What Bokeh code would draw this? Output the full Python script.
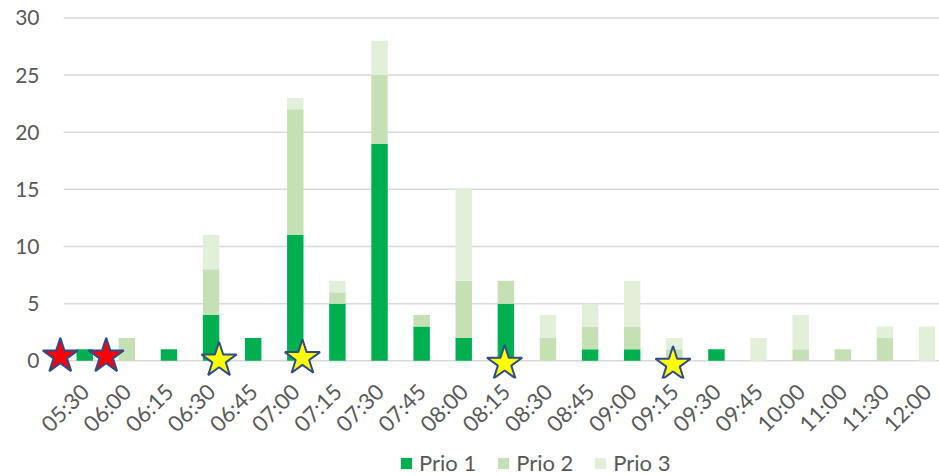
import math
from bokeh.plotting import figure
from bokeh.layouts import column
from bokeh.models import FixedTicker, Legend, LegendItem, ColumnDataSource, Range1d
from bokeh.embed import file_html
from bokeh.resources import INLINE

# ---- data ----
times = ["05:30", "06:00", "06:15", "06:30", "06:45", "07:00", "07:15", "07:30",
         "07:45", "08:00", "08:15", "08:30", "08:45", "09:00", "09:15", "09:30",
         "09:45", "10:00", "11:00", "11:30", "12:00"]
prio1 = [1, 0, 1, 4, 2, 11, 5, 19, 3, 2, 5, 0, 1, 1, 0, 1, 0, 0, 0, 0, 0]
prio2 = [0, 2, 0, 4, 0, 11, 1, 6, 1, 5, 2, 2, 2, 2, 1, 0, 0, 1, 1, 2, 0]
prio3 = [0, 0, 0, 3, 0, 1, 1, 3, 0, 8, 0, 2, 2, 4, 1, 0, 2, 3, 0, 1, 3]
series = ["Prio 1", "Prio 2", "Prio 3"]

# star markers (position in category units, value)
red_x = [-0.58, 0.51]
red_y = [0.4, 0.4]
yellow_x = [3.19, 5.17, 9.97, 13.97]
yellow_y = [0.05, 0.26, -0.23, -0.32]

y_ticks = [0, 5, 10, 15, 20, 25, 30]

FONT = "Lato"
TXT = "#595959"
COLORS = ["#00B050", "#C5E0B4", "#E2F0D9"]

X0, X1 = -1.05, 20.297

xs = list(range(len(times)))
src = ColumnDataSource(dict(x=xs, prio1=prio1, prio2=prio2, prio3=prio3))

p = figure(width=939, height=449, output_backend="svg", toolbar_location=None,
           x_range=Range1d(X0, X1), y_range=Range1d(-1.55, 30.3),
           min_border_left=40, min_border_right=0, min_border_top=14,
           min_border_bottom=68)
p.outline_line_color = None
p.background_fill_color = "white"
p.border_fill_color = "white"

# horizontal gridlines over the category area
p.segment(x0=[-0.5] * len(y_ticks), x1=[X1] * len(y_ticks), y0=y_ticks, y1=y_ticks,
          line_color="#D9D9D9", line_width=1.5, level="underlay")

rs = p.vbar_stack(["prio1", "prio2", "prio3"], x="x", width=0.39, source=src,
                  color=COLORS, line_color=None)

p.scatter(red_x, red_y, marker="star", size=37, fill_color="#FF0000",
          line_color="#2F4B8C", line_width=2)
p.scatter(yellow_x, yellow_y, marker="star", size=37, fill_color="#FFFF00",
          line_color="#2F4B8C", line_width=2)

# axes
p.xaxis.ticker = FixedTicker(ticks=xs)
p.xaxis.major_label_overrides = {i: t for i, t in enumerate(times)}
p.xaxis.major_label_orientation = math.pi / 4
p.xaxis.axis_line_color = None
p.xaxis.major_tick_line_color = None
p.xaxis.minor_tick_line_color = None
p.xaxis.major_label_standoff = 3
p.xaxis.major_label_text_font = FONT
p.xaxis.major_label_text_font_size = "22px"
p.xaxis.major_label_text_color = TXT

p.yaxis.ticker = FixedTicker(ticks=y_ticks)
p.yaxis.axis_line_color = None
p.yaxis.major_tick_line_color = None
p.yaxis.minor_tick_line_color = None
p.yaxis.major_label_standoff = -5
p.yaxis.major_label_text_font = FONT
p.yaxis.major_label_text_font_size = "21px"
p.yaxis.major_label_text_color = TXT

p.xgrid.grid_line_color = None
p.ygrid.grid_line_color = None

# legend strip below the chart (its bars lie outside its visible range)
lg = figure(width=939, height=27, output_backend="svg", toolbar_location=None,
            x_axis_location=None, y_axis_location=None,
            x_range=Range1d(X0, X1), y_range=Range1d(1000, 1001),
            min_border_left=0, min_border_right=0, min_border_top=0,
            min_border_bottom=0)
lg.outline_line_color = None
lg.xgrid.grid_line_color = None
lg.ygrid.grid_line_color = None
proxies = lg.vbar_stack(["prio1", "prio2", "prio3"], x="x", width=0.39, source=src,
                        color=COLORS, line_color=None)

legend = Legend(items=[LegendItem(label=s, renderers=[r]) for s, r in zip(series, proxies)],
                orientation="horizontal", location=(359, 0))
legend.label_text_font = FONT
legend.label_text_font_size = "22px"
legend.label_text_color = TXT
legend.glyph_width = 14
legend.glyph_height = 14
legend.label_standoff = 6
legend.spacing = 20
legend.padding = 0
legend.margin = 0
legend.border_line_color = None
legend.background_fill_alpha = 0
lg.add_layout(legend, "center")

page = column(p, lg, spacing=0)
open("out.html", "w").write(file_html(page, INLINE))
